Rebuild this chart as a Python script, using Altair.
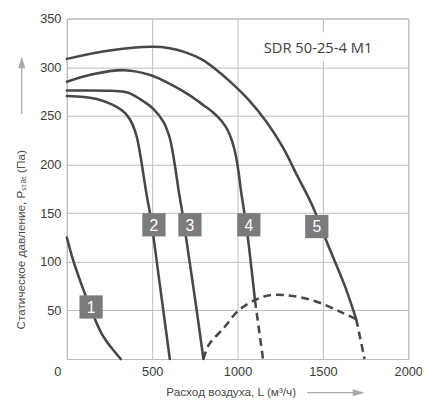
import altair as alt
import pandas as pd

# ---- data ----
c1_x = [0, 38, 106, 144, 201, 259, 316]
c1_y = [125, 101, 67, 50, 27, 12, 0]

c2_x = [0, 100, 180, 260, 320, 355, 385, 410, 430, 450, 470, 489, 545, 603]
c2_y = [270.5, 269.5, 267, 262, 256, 250, 241, 228, 210, 188, 166, 148, 76, 0]

c3_x = [0, 259, 355, 431, 508, 565, 603, 632, 655, 677, 698, 755, 800]
c3_y = [276, 275.8, 274, 267, 257, 244, 227, 200, 173, 150, 125, 57, 0]

c4_x = [0, 144, 336, 489, 623, 720, 800, 860, 905, 940, 968, 990, 1006, 1020, 1040, 1060, 1102]
c4_y = [285, 292.5, 297, 292, 281, 271, 261, 253, 245, 236, 224, 209, 192, 173, 150, 125, 60.5]

c5_x = [0, 240, 500, 603, 700, 790, 871, 958, 1073, 1169, 1264, 1351, 1437, 1533, 1629, 1695]
c5_y = [308.6, 317, 321, 319.5, 315, 308, 298, 285, 265, 244, 218, 188, 158, 116, 75, 41]

d4_x = [1102, 1149]
d4_y = [60.5, 0]
d5_x = [1695, 1744]
d5_y = [41, 0]
arc_x = [800, 833, 920, 1006, 1102, 1188, 1284, 1380, 1494, 1609, 1695]
arc_y = [0, 15, 32, 50, 60.5, 65.6, 65.6, 63, 57, 48, 41]

label_names = ["1", "2", "3", "4", "5"]
label_x = [142, 510, 721, 1066, 1464]
label_y = [53.5, 138, 138, 138, 136.2]

x_ticks = [0, 500, 1000, 1500, 2000]
y_ticks = [50, 100, 150, 200, 250, 300, 350]

model_name = "SDR 50-25-4 M1"
x_title = "Расход воздуха, L (м³/ч)"
y_title = "Статическое давление, Pₛₜₐₜ (Па)"

# ---- build table ----
series = [
    ("1", "solid", c1_x, c1_y),
    ("2", "solid", c2_x, c2_y),
    ("3", "solid", c3_x, c3_y),
    ("4", "solid", c4_x, c4_y),
    ("5", "solid", c5_x, c5_y),
    ("4d", "dash", d4_x, d4_y),
    ("5d", "dash", d5_x, d5_y),
    ("arc", "dash", arc_x, arc_y),
]
rows = []
for name, style, xs, ys in series:
    for i, (xv, yv) in enumerate(zip(xs, ys)):
        rows.append({"curve": name, "style": style, "i": i, "L": xv, "P": yv})
df = pd.DataFrame(rows)
labels_df = pd.DataFrame({"name": label_names, "L": label_x, "P": label_y})

FONT = "Liberation Sans"
LINE = "#474747"
GRID = "#bcbcbc"

xscale = alt.Scale(domain=[0, 2000], nice=False, zero=False)
yscale = alt.Scale(domain=[0, 350], nice=False, zero=False)

xaxis = alt.Axis(
    values=x_ticks, title=x_title, grid=True, ticks=False, labelFlush=False,
    labelPadding=7, labelFontSize=13, format="d",
    labelAlign={"condition": {"test": "datum.value === 0", "value": "right"}, "value": "center"},
    labelOffset={"condition": {"test": "datum.value === 0", "value": -6}, "value": 0},
    titleX=167, titleY=33, titleBaseline="middle", titleAlign="center",
)
yaxis = alt.Axis(
    values=y_ticks, title=y_title, grid=True, ticks=False, labelPadding=6,
    labelFontSize=13, format="d",
    titleX=-47, titleY=225, titleBaseline="middle", titleAlign="center", titleAngle=-90,
)

base = alt.Chart(df)
enc = dict(
    x=alt.X("L:Q", scale=xscale, axis=xaxis),
    y=alt.Y("P:Q", scale=yscale, axis=yaxis),
    detail="curve:N",
    order="i:Q",
)
solid = base.transform_filter(alt.datum.style == "solid").mark_line(
    color=LINE, strokeWidth=2.6, interpolate="catmull-rom", strokeCap="round"
).encode(**enc)
dashed = base.transform_filter(alt.datum.style == "dash").mark_line(
    color=LINE, strokeWidth=2.6, interpolate="catmull-rom", strokeDash=[8, 5]
).encode(**enc)

boxes = alt.Chart(labels_df).mark_square(size=560, color="#7b7b7b", opacity=1, filled=True).encode(
    x=alt.X("L:Q", scale=xscale), y=alt.Y("P:Q", scale=yscale)
)
box_text = alt.Chart(labels_df).mark_text(
    color="white", font=FONT, fontSize=16, baseline="middle", align="center", dy=1
).encode(x=alt.X("L:Q", scale=xscale), y=alt.Y("P:Q", scale=yscale), text="name:N")

deco = alt.Chart(alt.Data(values=[{}]))
title_bg = deco.mark_rect(color="white").encode(
    x=alt.value(192), x2=alt.value(320), y=alt.value(14), y2=alt.value(43)
)
title_txt = deco.mark_text(
    text=model_name, font="Open Sans", fontSize=15, color="#404040", align="center", baseline="middle"
).encode(x=alt.value(256), y=alt.value(30))

ARROW = "#a8a8a8"
x_arrow_line = deco.mark_rule(color=ARROW, strokeWidth=1.2).encode(
    x=alt.value(245), x2=alt.value(298), y=alt.value(381.3)
)
x_arrow_head = deco.mark_point(
    shape="M-1,-0.6L1,0L-1,0.6Z", size=144, filled=True, color=ARROW, opacity=1
).encode(x=alt.value(297.4), y=alt.value(381.3))
y_arrow_line = deco.mark_rule(color=ARROW, strokeWidth=1.2).encode(
    x=alt.value(-46), y=alt.value(45), y2=alt.value(97)
)
y_arrow_head = deco.mark_point(
    shape="M-0.6,1L0,-1L0.6,1Z", size=144, filled=True, color=ARROW, opacity=1
).encode(x=alt.value(-46), y=alt.value(44.6))

chart = alt.layer(
    title_bg, solid, dashed, boxes, box_text, title_txt,
    x_arrow_line, x_arrow_head, y_arrow_line, y_arrow_head,
).properties(
    width=348, height=347,
    autosize=alt.AutoSizeParams(type="none"),
    padding={"left": 60, "top": 7, "right": 14, "bottom": 40},
).configure_view(
    stroke=GRID, strokeWidth=1
).configure_axis(
    labelFont=FONT, titleFont=FONT, labelColor="#3a3a3a", titleColor="#4a4a4a",
    titleFontSize=12, titleFontWeight="normal",
    gridColor=GRID, gridWidth=1, domainColor=GRID, domainWidth=1,
)

chart.save("out.html", embed_options={"renderer": "svg", "actions": False})
